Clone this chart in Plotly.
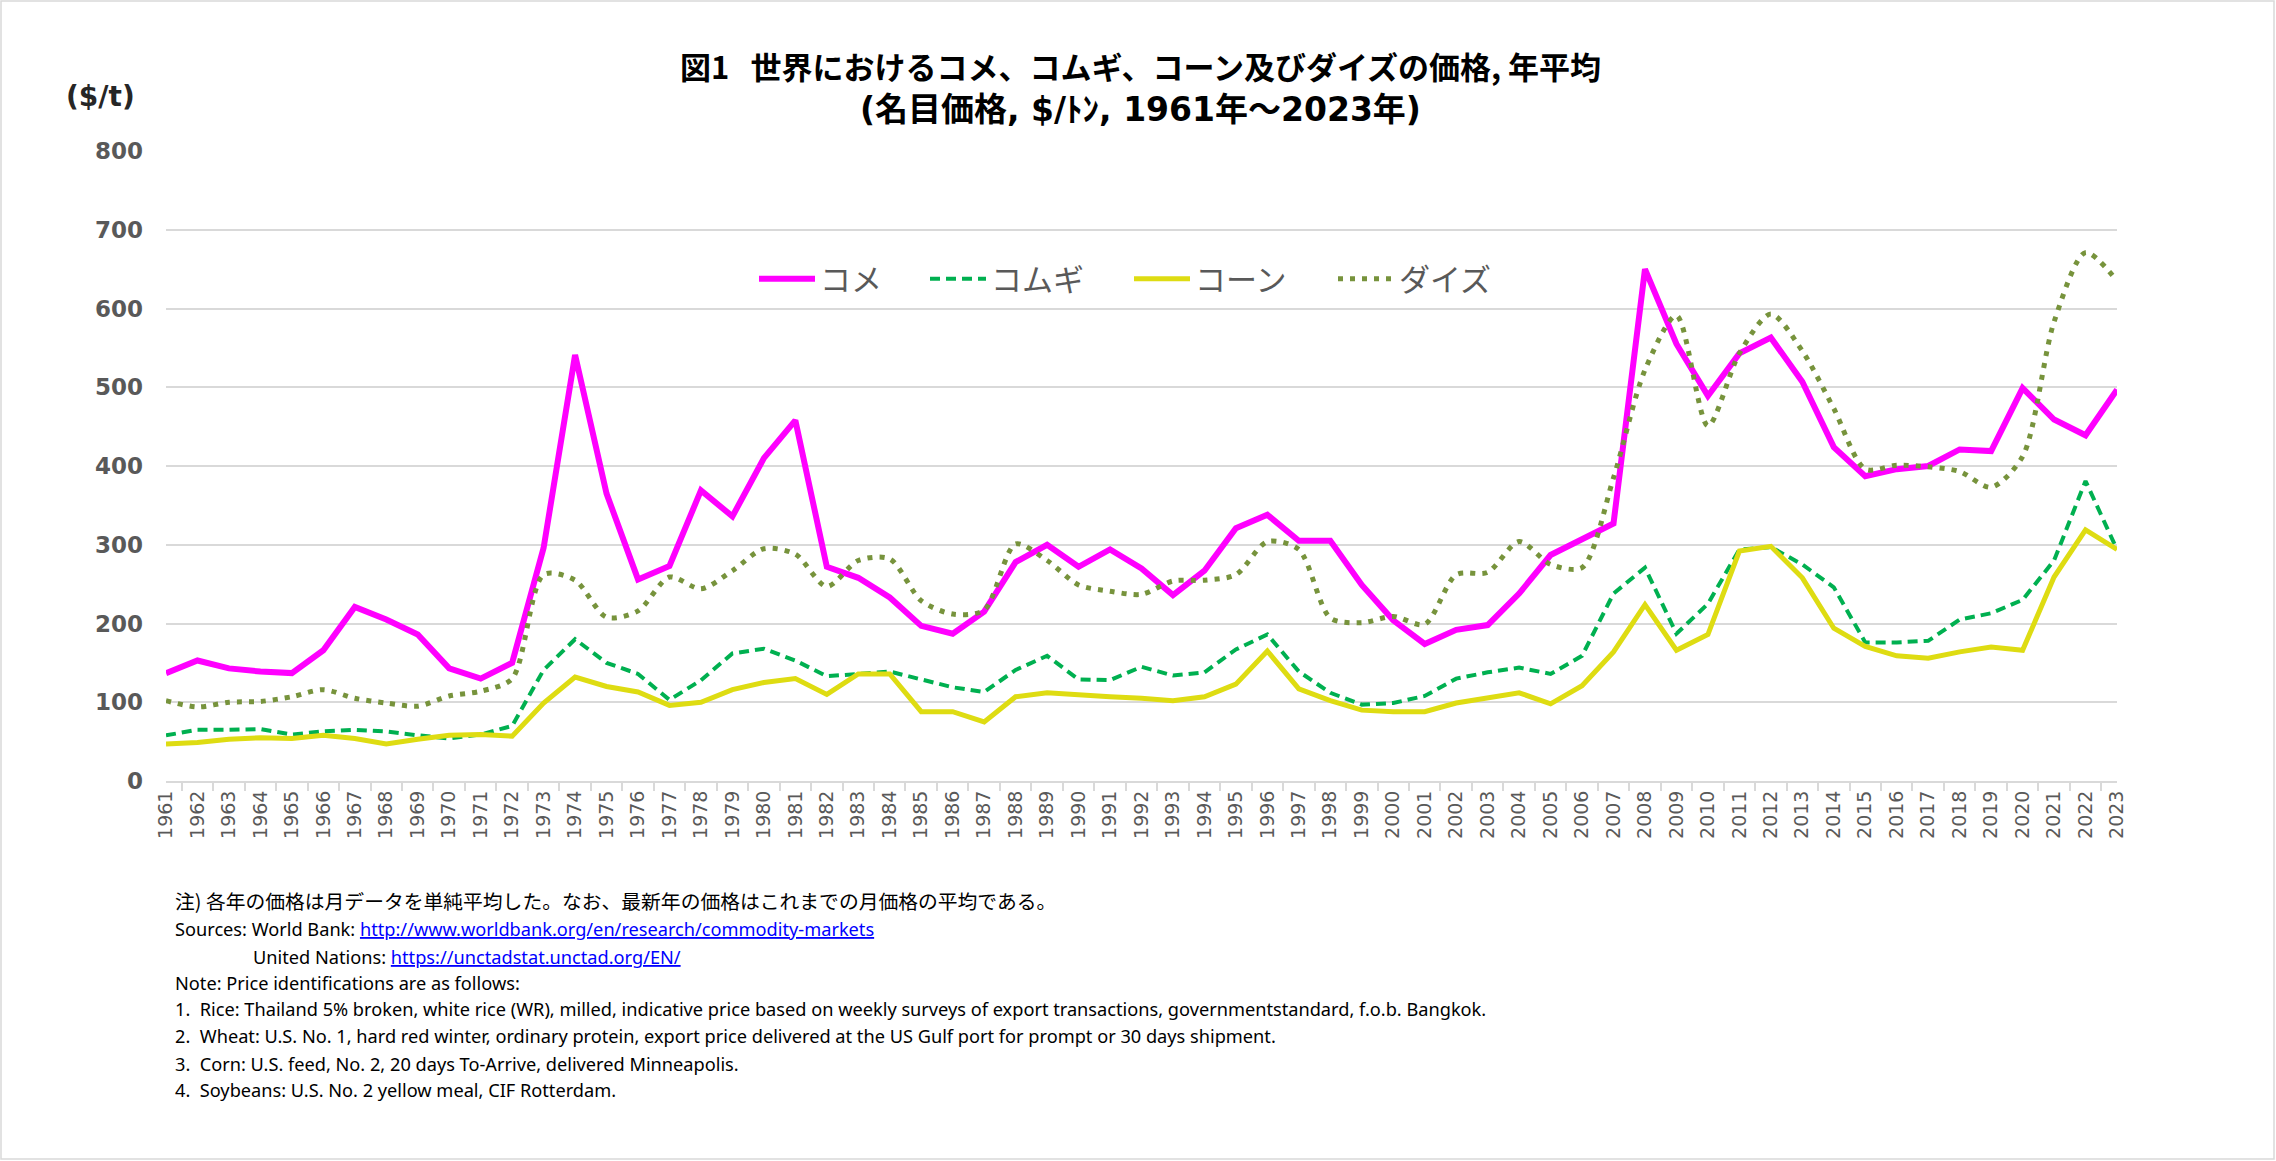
import plotly.graph_objects as go

years = [str(y) for y in range(1961, 2024)]

rice = [137, 153, 143, 139, 137, 166, 221, 205, 186, 143, 130, 150, 296, 541, 365, 256, 273, 369, 336, 410,
        458, 272, 258, 233, 197, 187, 215, 278, 300, 272, 294, 270, 236, 267, 321, 338, 305, 305, 249, 204,
        174, 192, 198, 238, 287, 307, 327, 650, 555, 489, 543, 563, 507, 424, 387, 396, 400, 421, 419, 499,
        459, 439, 497]
wheat = [58, 65, 65, 66, 59, 63, 65, 63, 58, 54, 59, 70, 141, 180, 150, 136, 103, 128, 162, 168,
         153, 133, 136, 139, 129, 119, 113, 141, 159, 129, 128, 145, 134, 138, 167, 186, 139, 112, 97, 99,
         108, 130, 138, 144, 136, 159, 238, 271, 187, 225, 294, 297, 275, 246, 176, 176, 178, 205, 213, 230,
         280, 381, 294]
corn = [47, 49, 53, 55, 54, 58, 54, 47, 53, 58, 59, 57, 99, 132, 120, 113, 96, 100, 116, 125,
        130, 110, 136, 136, 88, 88, 75, 107, 112, 109, 107, 105, 102, 107, 123, 165, 117, 102, 90, 88,
        88, 99, 105, 112, 98, 121, 164, 224, 166, 186, 292, 298, 258, 194, 171, 159, 156, 164, 170, 166,
        259, 319, 294]
soy = [102, 94, 100, 101, 107, 116, 105, 99, 95, 108, 114, 130, 262, 255, 208, 216, 259, 244, 267, 295,
       288, 247, 280, 282, 229, 212, 217, 301, 280, 249, 241, 237, 254, 255, 262, 304, 294, 207, 201, 209,
       199, 262, 265, 304, 275, 271, 385, 522, 591, 451, 543, 593, 546, 473, 396, 401, 399, 393, 373, 412,
       583, 671, 635]

names = ["コメ", "コムギ", "コーン", "ダイズ"]
title1 = "<b>図1&nbsp;&nbsp;&nbsp;世界におけるコメ、コムギ、コーン及びダイズの価格, 年平均</b>"
title2 = "<b>(名目価格, $/ﾄﾝ, 1961年～2023年)</b>"
unit = "<b>($/t)</b>"
note_jp = "注) 各年の価格は月データを単純平均した。なお、最新年の価格はこれまでの月価格の平均である。"
notes_en = [
    (173, 929, "Sources: World Bank: <span style='color:#0000FF'><u>http://www.worldbank.org/en/research/commodity-markets</u></span>"),
    (251, 957, "United Nations: <span style='color:#0000FF'><u>https://unctadstat.unctad.org/EN/</u></span>"),
    (173, 983, "Note: Price identifications are as follows:"),
    (173, 1009, "1.&nbsp;&nbsp;Rice: Thailand 5% broken, white rice (WR), milled, indicative price based on weekly surveys of export transactions, governmentstandard, f.o.b. Bangkok."),
    (173, 1036, "2.&nbsp;&nbsp;Wheat: U.S. No. 1, hard red winter, ordinary protein, export price delivered at the US Gulf port for prompt or 30 days shipment."),
    (173, 1064, "3.&nbsp;&nbsp;Corn: U.S. feed, No. 2, 20 days To-Arrive, delivered Minneapolis."),
    (173, 1090, "4.&nbsp;&nbsp;Soybeans: U.S. No. 2 yellow meal, CIF Rotterdam."),
]

W, H = 2276, 1161
L, R, T, B = 166, 159, 151, 380
PW, PH = W - L - R, H - T - B

def px(x):
    return (x - L) / PW

def py(y):
    return (H - B - y) / PH

fig = go.Figure()
fig.add_trace(go.Scatter(x=years, y=rice, name=names[0], mode="lines", legend="legend",
                         line=dict(color="#FF00FF", width=6)))
fig.add_trace(go.Scatter(x=years, y=wheat, name=names[1], mode="lines", legend="legend2",
                         line=dict(color="#00B050", width=4, dash="10px,6px")))
fig.add_trace(go.Scatter(x=years, y=corn, name=names[2], mode="lines", legend="legend3",
                         line=dict(color="#DEDC12", width=5)))
fig.add_trace(go.Scatter(x=years, y=soy, name=names[3], mode="lines", legend="legend4",
                         line=dict(color="#77933C", width=5, dash="5px,7px", shape="spline", smoothing=0.8)))

annots = [
    dict(text=title1, x=px(1140), y=py(65), font=dict(size=31, color="#000000", family="Noto Sans CJK JP")),
    dict(text=title2, x=px(1140), y=py(109),
         font=dict(size=33, color="#000000", family="DejaVu Sans, Noto Sans CJK JP")),
    dict(text=unit, x=px(100), y=py(96), font=dict(size=28, color="#262626", family="DejaVu Sans")),
    dict(text=note_jp, x=px(173), y=py(900), xanchor="left",
         font=dict(size=19.8, color="#000000", family="Noto Sans CJK JP")),
]
for xx, yy, t in notes_en:
    annots.append(dict(text=t, x=px(xx), y=py(yy), xanchor="left",
                       font=dict(size=18.2, color="#000000", family="Noto Sans")))
for a in annots:
    a.update(xref="paper", yref="paper", showarrow=False, yanchor="middle")
    a.setdefault("xanchor", "center")

def leg(xpos):
    return dict(orientation="h", x=px(xpos), y=py(279), xanchor="left", yanchor="middle",
                font=dict(size=31, color="#595959", family="Noto Sans CJK JP"),
                itemwidth=56, bgcolor="rgba(0,0,0,0)")

fig.update_layout(
    width=W, height=H,
    margin=dict(l=L, r=R, t=T, b=B),
    paper_bgcolor="#FFFFFF", plot_bgcolor="#FFFFFF",
    annotations=annots,
    showlegend=True,
    legend=leg(754), legend2=leg(925), legend3=leg(1129), legend4=leg(1333),
    shapes=[dict(type="rect", xref="paper", yref="paper", x0=px(1), x1=px(W - 2), y0=py(H - 2), y1=py(1),
                 line=dict(color="#D9D9D9", width=1.5), layer="below")],
)
fig.update_xaxes(type="category", tickangle=-90, tickson="boundaries", ticks="outside", ticklen=8,
                 tickcolor="#D9D9D9", tickwidth=1.5, showline=True, linecolor="#D9D9D9", linewidth=2,
                 showgrid=False, tickfont=dict(size=19, color="#595959", family="DejaVu Sans"))
fig.update_yaxes(range=[0, 800], dtick=100, showgrid=True, gridcolor="#D9D9D9", gridwidth=2,
                 zeroline=False, showline=False, ticks="", ticklabelstandoff=22,
                 tickfont=dict(size=23, color="#595959", family="DejaVu Sans"), tickprefix="<b>", ticksuffix="</b>")

fig.write_html("out.html")
